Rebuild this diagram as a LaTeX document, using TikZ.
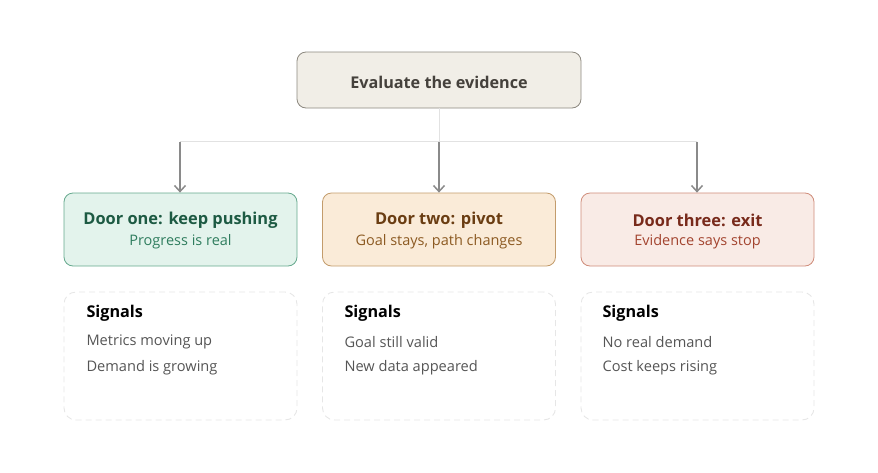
\documentclass[tikz,border=0pt]{standalone}
\usepackage{fontspec}
\setmainfont{Open Sans}
\usetikzlibrary{arrows.meta}
\definecolor{topfill}{HTML}{F1EEE7}
\definecolor{topdraw}{HTML}{8C887F}
\definecolor{toptext}{HTML}{45413C}
\definecolor{gfill}{HTML}{E3F3EC}
\definecolor{gdraw}{HTML}{66A98E}
\definecolor{gtitle}{HTML}{1D5A43}
\definecolor{gsub}{HTML}{2F7D5E}
\definecolor{ofill}{HTML}{FAEBD8}
\definecolor{odraw}{HTML}{C39C6C}
\definecolor{otitle}{HTML}{6A3D12}
\definecolor{osub}{HTML}{8C5A22}
\definecolor{rfill}{HTML}{F9EBE6}
\definecolor{rdraw}{HTML}{CF8C7A}
\definecolor{rtitle}{HTML}{782A1B}
\definecolor{rsub}{HTML}{A3442F}
\definecolor{linegray}{HTML}{E2E2E2}
\definecolor{arrgray}{HTML}{8A8A8A}
\definecolor{dashgray}{HTML}{E6E6E6}
\definecolor{itemgray}{HTML}{555555}
\tikzset{
  topbox/.style={draw=topdraw, fill=topfill, rounded corners=9pt, line width=0.8pt, minimum width=284pt, minimum height=56pt, inner sep=0pt},
  toptxt/.style={font=\fontsize{16.2}{19}\selectfont\bfseries, text=toptext, anchor=center},
  doorbox/.style={rounded corners=9pt, line width=0.8pt, minimum width=233pt, minimum height=73pt, inner sep=0pt},
  sigbox/.style={draw=dashgray, dash pattern=on 6pt off 4pt, rounded corners=12pt, line width=0.9pt, minimum width=233pt, minimum height=128pt, inner sep=0pt},
  ttl/.style={font=\fontsize{16.4}{19}\selectfont\bfseries, anchor=center},
  sub/.style={font=\fontsize{14.5}{17}\selectfont, anchor=center},
  sighead/.style={font=\fontsize{16.2}{19}\selectfont\bfseries, text=black, anchor=west},
  sigitem/.style={font=\fontsize{14.6}{17}\selectfont, text=itemgray, anchor=west},
  conn/.style={draw=linegray, line width=1pt},
  arr/.style={draw=arrgray, line width=1.5pt, -{Straight Barb[length=6pt,width=11pt]}},
}
\begin{document}
\begin{tikzpicture}[x=1pt,y=-1pt]
\useasboundingbox (0,0) rectangle (878,472);
\node[topbox] (top) at (439,80) {};
\node[toptxt] (toplabel) at (439,82) {Evaluate the evidence};
\node[doorbox, draw=gdraw, fill=gfill] (d1) at (180.5,229.5) {};
\node[doorbox, draw=odraw, fill=ofill] (d2) at (439,229.5) {};
\node[doorbox, draw=rdraw, fill=rfill] (d3) at (697.5,229.5) {};
\node[ttl, text=gtitle] (t1) at (180.5,220.5) {Door one: keep pushing};
\node[sub, text=gsub] (s1) at (180.5,242) {Progress is real};
\node[ttl, text=otitle] (t2) at (439,220.5) {Door two: pivot};
\node[sub, text=osub] (s2) at (439,242) {Goal stays, path changes};
\node[ttl, text=rtitle] (t3) at (697.5,220.5) {Door three: exit};
\node[sub, text=rsub] (s3) at (697.5,242) {Evidence says stop};
\coordinate (hub) at (439,141.5);
\coordinate (hl) at (180,141.5);
\coordinate (hr) at (697,141.5);
\draw[conn] (top.south) -- (hub);
\draw[conn] (hl) -- (hr);
\draw[arr] (hl) -- (hl |- d1.north);
\draw[arr] (hub) -- (hub |- d2.north);
\draw[arr] (hr) -- (hr |- d3.north);
\node[sigbox] (g1) at (180.5,356) {};
\node[sigbox] (g2) at (439,356) {};
\node[sigbox] (g3) at (697.5,356) {};
\node[sighead] (h1) at (83,313.5) {Signals};
\node[sigitem] (a1) at (83,342) {Metrics moving up};
\node[sigitem] (b1) at (83,368) {Demand is growing};
\node[sighead] (h2) at (341,313.5) {Signals};
\node[sigitem] (a2) at (341,342) {Goal still valid};
\node[sigitem] (b2) at (341,368) {New data appeared};
\node[sighead] (h3) at (599,313.5) {Signals};
\node[sigitem] (a3) at (599,342) {No real demand};
\node[sigitem] (b3) at (599,368) {Cost keeps rising};
\end{tikzpicture}
\end{document}
